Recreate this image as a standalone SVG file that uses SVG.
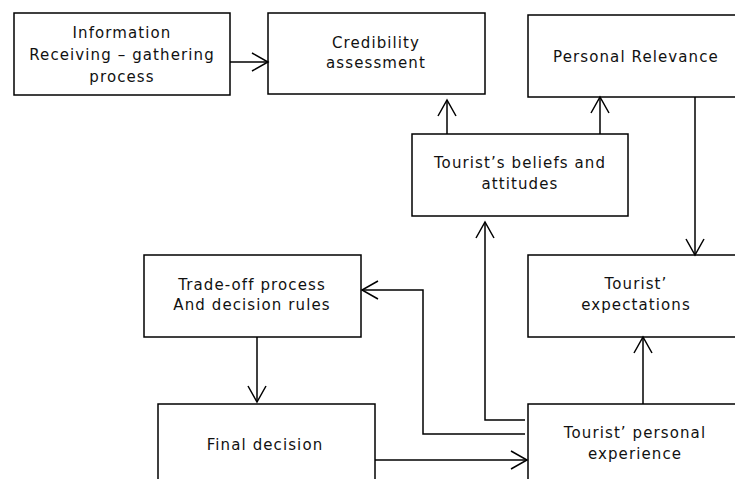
<svg xmlns="http://www.w3.org/2000/svg" width="735" height="479" viewBox="0 0 735 479">
<style>
.box{fill:#fff;stroke:#000;stroke-width:1.5}
.t{font-family:"DejaVu Sans",Verdana,sans-serif;font-size:15px;letter-spacing:1.1px;fill:#111;text-anchor:middle}
.c{fill:none;stroke:#000;stroke-width:1.5;marker-end:url(#ah)}
</style>
<defs>
<marker id="ah" markerUnits="userSpaceOnUse" markerWidth="40" markerHeight="40" viewBox="-20 -20 40 40" refX="0" refY="0" orient="auto">
<path d="M-16,-9 L0,0 L-16,9" fill="none" stroke="#000" stroke-width="1.5"/>
</marker>
</defs>
<rect width="735" height="479" fill="#fff"/>
<g id="n-info"><rect class="box" x="14" y="13" width="216" height="82"/>
<text class="t" x="122" y="38">Information</text>
<text class="t" x="122" y="60">Receiving – gathering</text>
<text class="t" x="122" y="82">process</text></g>
<g id="n-cred"><rect class="box" x="268" y="13" width="217" height="81"/>
<text class="t" x="376" y="48">Credibility</text>
<text class="t" x="376" y="68">assessment</text></g>
<g id="n-rel"><rect class="box" x="528" y="15" width="220" height="82"/>
<text class="t" x="636" y="62">Personal Relevance</text></g>
<g id="n-beliefs"><rect class="box" x="412" y="134" width="216" height="82"/>
<text class="t" x="520" y="168">Tourist’s beliefs and</text>
<text class="t" x="520" y="189">attitudes</text></g>
<g id="n-trade"><rect class="box" x="144" y="255" width="217" height="82"/>
<text class="t" x="252" y="290">Trade-off process</text>
<text class="t" x="252" y="310">And decision rules</text></g>
<g id="n-expect"><rect class="box" x="528" y="255" width="220" height="82"/>
<text class="t" x="636" y="289">Tourist’</text>
<text class="t" x="636" y="310">expectations</text></g>
<g id="n-final"><rect class="box" x="158" y="404" width="217" height="90"/>
<text class="t" x="265" y="450">Final decision</text></g>
<g id="n-exp"><rect class="box" x="528" y="404" width="220" height="90"/>
<text class="t" x="635" y="438">Tourist’ personal</text>
<text class="t" x="635" y="459">experience</text></g>
<g id="connectors">
<path class="c" d="M230,62 H268"/>
<path class="c" d="M447,134 V100"/>
<path class="c" d="M600,134 V97"/>
<path class="c" d="M695,97 V255"/>
<path class="c" d="M643,404 V337"/>
<path class="c" d="M525,420 H485 V222"/>
<path class="c" d="M525,434 H423 V290 H362"/>
<path class="c" d="M257,337 V402"/>
<path class="c" d="M375,460 H527"/>
</g>
</svg>
